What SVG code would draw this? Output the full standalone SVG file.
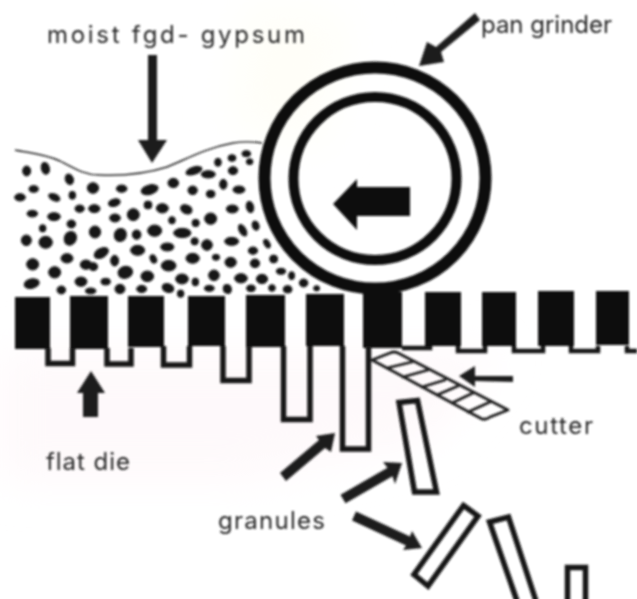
<svg xmlns="http://www.w3.org/2000/svg" width="637" height="599" viewBox="0 0 637 599">
<style>
text{font-family:"Inter","Open Sans","Liberation Sans",sans-serif;font-size:24px;fill:#262626}
.k{fill:#111}
.w{fill:none;stroke:#151515;stroke-width:5.5;stroke-linejoin:miter}
.g{fill:none;stroke:#151515;stroke-width:5.500}
.c{fill:none;stroke:#1c1c1c;stroke-width:2.8;stroke-linecap:round;stroke-linejoin:round}
.a{fill:#1d1d1d}
.p ellipse{fill:#161616;stroke:#161616;stroke-width:3}
</style>
<defs>
<filter id="soft" x="-2%" y="-2%" width="104%" height="104%"><feGaussianBlur stdDeviation="0.8"/></filter>
<filter id="wash" x="-30%" y="-30%" width="160%" height="160%"><feGaussianBlur stdDeviation="22"/></filter>
</defs>
<rect width="637" height="599" fill="#fff"/>
<g id="tint" filter="url(#wash)">
<path d="M0 352H500L430 440L250 480H0Z" fill="#fef9fb"/>
<path d="M250 0L350 20L320 150L230 120Z" fill="#fffef8"/>
</g>
<g filter="url(#soft)">
<g id="material">
<path d="M15 150C30 153 45 154 60 161C75 169 85 175 100 175C125 176 145 174 167 167C185 160 205 148 233 143C245 141 255 142 262 143" fill="none" stroke="#222" stroke-width="1.4"/>
<g class="p" transform="translate(0 120) scale(.3333)">
<ellipse cx="80" cy="153" rx="12" ry="15"/><ellipse cx="136" cy="145" rx="12" ry="18" transform="rotate(-15 136 145)"/><ellipse cx="208" cy="178" rx="12" ry="16" transform="rotate(-20 208 178)"/><ellipse cx="101" cy="207" rx="14" ry="10"/><ellipse cx="60" cy="232" rx="16" ry="11"/><ellipse cx="163" cy="232" rx="18" ry="10" transform="rotate(25 163 232)"/><ellipse cx="217" cy="226" rx="10" ry="12"/><ellipse cx="279" cy="204" rx="17" ry="16"/><ellipse cx="365" cy="206" rx="16" ry="11"/><ellipse cx="449" cy="209" rx="26" ry="14" transform="rotate(-15 449 209)"/><ellipse cx="520" cy="189" rx="16" ry="14"/><ellipse cx="582" cy="152" rx="25" ry="11" transform="rotate(-18 582 152)"/><ellipse cx="625" cy="163" rx="21" ry="11"/><ellipse cx="654" cy="127" rx="10" ry="12"/><ellipse cx="696" cy="114" rx="12" ry="10"/><ellipse cx="739" cy="101" rx="13" ry="9"/><ellipse cx="749" cy="125" rx="10" ry="9"/><ellipse cx="699" cy="152" rx="14" ry="12"/><ellipse cx="670" cy="193" rx="11" ry="15"/><ellipse cx="717" cy="209" rx="18" ry="11"/><ellipse cx="578" cy="211" rx="14" ry="13"/><ellipse cx="632" cy="222" rx="13" ry="11"/>
<ellipse cx="97" cy="281" rx="16" ry="10"/><ellipse cx="162" cy="290" rx="19" ry="12"/><ellipse cx="239" cy="266" rx="14" ry="11"/><ellipse cx="283" cy="266" rx="17" ry="12"/><ellipse cx="343" cy="248" rx="18" ry="11" transform="rotate(-15 343 248)"/><ellipse cx="444" cy="255" rx="12" ry="12"/><ellipse cx="487" cy="265" rx="18" ry="14"/><ellipse cx="559" cy="268" rx="18" ry="13" transform="rotate(25 559 268)"/><ellipse cx="697" cy="267" rx="18" ry="12"/><ellipse cx="750" cy="261" rx="11" ry="17" transform="rotate(-15 750 261)"/><ellipse cx="345" cy="294" rx="16" ry="12"/><ellipse cx="400" cy="284" rx="18" ry="18"/><ellipse cx="516" cy="301" rx="10" ry="11"/><ellipse cx="587" cy="309" rx="11" ry="11"/><ellipse cx="632" cy="296" rx="18" ry="17"/><ellipse cx="728" cy="331" rx="10" ry="19" transform="rotate(-30 728 331)"/><ellipse cx="767" cy="317" rx="10" ry="14" transform="rotate(-20 767 317)"/>
<ellipse cx="128" cy="325" rx="10" ry="11"/><ellipse cx="214" cy="312" rx="13" ry="12"/><ellipse cx="285" cy="336" rx="17" ry="18"/><ellipse cx="361" cy="345" rx="18" ry="20" transform="rotate(20 361 345)"/><ellipse cx="410" cy="344" rx="13" ry="14"/><ellipse cx="464" cy="332" rx="21" ry="17"/><ellipse cx="547" cy="339" rx="26" ry="14"/><ellipse cx="79" cy="361" rx="15" ry="16"/><ellipse cx="137" cy="367" rx="20" ry="18"/><ellipse cx="211" cy="355" rx="18" ry="21" transform="rotate(25 211 355)"/><ellipse cx="584" cy="364" rx="11" ry="11"/><ellipse cx="621" cy="375" rx="16" ry="16"/><ellipse cx="695" cy="364" rx="21" ry="12"/><ellipse cx="801" cy="371" rx="8" ry="14" transform="rotate(-30 801 371)"/><ellipse cx="502" cy="381" rx="20" ry="12"/><ellipse cx="413" cy="391" rx="21" ry="15"/><ellipse cx="304" cy="399" rx="23" ry="14" transform="rotate(-30 304 399)"/><ellipse cx="201" cy="415" rx="18" ry="14"/><ellipse cx="98" cy="433" rx="18" ry="17"/><ellipse cx="344" cy="422" rx="12" ry="16"/><ellipse cx="460" cy="417" rx="9" ry="13" transform="rotate(-25 460 417)"/><ellipse cx="578" cy="415" rx="20" ry="15"/><ellipse cx="648" cy="412" rx="11" ry="9"/><ellipse cx="692" cy="427" rx="17" ry="15"/><ellipse cx="759" cy="392" rx="14" ry="11"/><ellipse cx="765" cy="430" rx="14" ry="13"/><ellipse cx="821" cy="417" rx="12" ry="12"/>
<ellipse cx="258" cy="434" rx="17" ry="14"/><ellipse cx="280" cy="440" rx="13" ry="12"/><ellipse cx="506" cy="437" rx="22" ry="16"/><ellipse cx="164" cy="457" rx="18" ry="17"/><ellipse cx="376" cy="457" rx="22" ry="18" transform="rotate(-15 376 457)"/><ellipse cx="442" cy="469" rx="19" ry="16"/><ellipse cx="642" cy="466" rx="16" ry="16"/><ellipse cx="723" cy="475" rx="19" ry="14"/><ellipse cx="786" cy="477" rx="17" ry="14"/><ellipse cx="843" cy="454" rx="14" ry="9"/><ellipse cx="875" cy="467" rx="9" ry="12"/><ellipse cx="911" cy="489" rx="13" ry="12"/><ellipse cx="546" cy="477" rx="19" ry="15"/><ellipse cx="586" cy="486" rx="10" ry="12"/><ellipse cx="243" cy="485" rx="18" ry="14"/><ellipse cx="317" cy="485" rx="14" ry="10"/><ellipse cx="95" cy="491" rx="23" ry="14" transform="rotate(-12 95 491)"/><ellipse cx="184" cy="510" rx="13" ry="12"/><ellipse cx="272" cy="513" rx="16" ry="9"/><ellipse cx="360" cy="507" rx="15" ry="14"/><ellipse cx="425" cy="507" rx="15" ry="11"/><ellipse cx="504" cy="504" rx="18" ry="13" transform="rotate(20 504 504)"/><ellipse cx="542" cy="521" rx="10" ry="11"/><ellipse cx="628" cy="505" rx="15" ry="9"/><ellipse cx="682" cy="507" rx="12" ry="14" transform="rotate(-25 682 507)"/><ellipse cx="753" cy="505" rx="13" ry="10"/><ellipse cx="816" cy="504" rx="10" ry="10"/><ellipse cx="863" cy="508" rx="13" ry="11"/><ellipse cx="950" cy="505" rx="9" ry="8"/>
</g>
</g>
<g id="flat-die">
<path class="k" d="M15 297H50V349H15ZM70 296H108V349H70ZM128 296H164V347H128ZM188 296H225V346H188ZM246 295H285V347H246ZM306 294H344V346H306ZM363 292H402V348H363ZM425 292H461V346H425ZM482 292H516V346H482ZM538 291H574V346H538ZM596 291H629V345H596Z"/>
<path class="w" d="M48 348V363.500H72.500V348M107 348V364H131V348M163.500 346V365H189.500V346M223 346V380.500H249V346M283.500 346V419.500H310V346M342.500 346V449H368.500V346"/>
<path fill="none" stroke="#151515" stroke-width="4.500" d="M402 348H430V346M458 346V351H485V346M514 346V351H543V346M571 346V351H598V346M627 346V351H637"/>
</g>
<g id="pan-grinder">
<circle cx="375" cy="178" r="110.500" fill="none" stroke="#111" stroke-width="12"/>
<circle cx="375" cy="178.500" r="81.500" fill="none" stroke="#111" stroke-width="10"/>
<path class="k" d="M333 204L357 179V187H410V216H357V230Z"/>
</g>
<g id="cutter">
<path class="c" d="M372 360L482 419Q486 420 490 417L508 410L398 353Q394 351 390 353ZM387 368L412 362M403 377L428 370M422 387L445 380M437 395L458 386M452 403L473 393M468 412L490 402"/>
</g>
<g id="granules">
<path class="g" d="M399 402.500L417.500 400.500L436.500 492H414.500Z"/>
<path class="g" d="M463.500 505.500L478 516L428 586L414 574.500Z"/>
<path class="g" d="M517 601L489.500 522L508.500 517L536 601"/>
<path class="g" d="M567.500 601V567.500H585.500V601"/>
</g>
<g id="connectors">
<path class="a" d="M148 55H157V140H167L152 163L138 140H148Z"/>
<path class="a" d="M475 13L480 20L441 52L444 62L419 66L427 42L436 47Z"/>
<path class="a" d="M83 417V393H77L91 371L105 393H98V417Z"/>
<path class="a" d="M513 376V382L475 381V387L459 376L475 366V376Z"/>
<path class="a" d="M280 473L286 481L325 448L331 452L335 433L316 436L319 440Z"/>
<path class="a" d="M340.500 494.700L345.500 503.300L392.500 476.300L395 484L402 463L383 462L387.500 467.700Z"/>
<path class="a" d="M356 511.500L352 520.600L406 545.600L403 550L422 548L412 531L410 536.500Z"/>
</g>
<g id="labels">
<text x="47" y="43" textLength="258" lengthAdjust="spacing">moist fgd- gypsum</text>
<text x="481" y="33" textLength="131" lengthAdjust="spacing">pan grinder</text>
<text x="46" y="470" textLength="84" lengthAdjust="spacing">flat die</text>
<text x="519" y="434" textLength="74" lengthAdjust="spacing">cutter</text>
<text x="218" y="529" textLength="107" lengthAdjust="spacing">granules</text>
</g>
</g>
</svg>
